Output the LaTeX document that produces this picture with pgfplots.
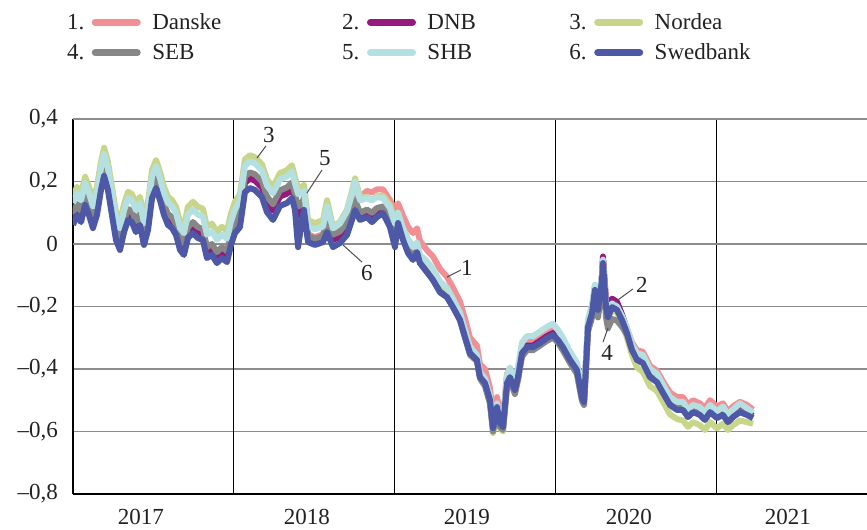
\documentclass[border=0pt]{standalone}
\usepackage{fontspec}
\setmainfont{Liberation Serif}
\usepackage{pgfplots}
\usepackage{pgfplotstable}
\pgfplotsset{compat=1.18}

\definecolor{danske}{RGB}{241,143,148}
\definecolor{dnb}{RGB}{150,25,125}
\definecolor{nordea}{RGB}{200,214,140}
\definecolor{seb}{RGB}{135,135,135}
\definecolor{shb}{RGB}{180,224,226}
\definecolor{swed}{RGB}{77,88,166}
\definecolor{txt}{RGB}{34,34,34}
\definecolor{gridg}{RGB}{140,140,140}

\newcommand\fs{\fontsize{23bp}{27bp}\selectfont}
\newcommand\legimg[1]{%
  \draw[line width=7bp,line cap=round] (0bp,0bp) -- (42bp,0bp);
  \node[anchor=east,inner sep=0pt,text=txt,font=\fs] at (-11bp,0bp) {#1.};}

% x: decimal year, columns: Danske DNB Nordea SEB SHB Swedbank (per cent)
\pgfplotstableread{
x        D      DNB    NO     SEB    SHB    SW
2017.000 0.091 0.076 0.151 0.096 0.131 0.061
2017.025 0.123 0.108 0.183 0.128 0.163 0.093
2017.050 0.100 0.085 0.160 0.105 0.140 0.070
2017.075 0.155 0.140 0.215 0.160 0.195 0.125
2017.099 0.123 0.108 0.183 0.128 0.163 0.093
2017.124 0.081 0.066 0.141 0.086 0.121 0.051
2017.149 0.123 0.108 0.183 0.128 0.163 0.093
2017.174 0.203 0.188 0.263 0.208 0.243 0.173
2017.193 0.248 0.233 0.308 0.253 0.288 0.218
2017.217 0.203 0.188 0.263 0.208 0.243 0.173
2017.242 0.123 0.108 0.183 0.128 0.163 0.093
2017.267 0.043 0.028 0.103 0.048 0.083 0.013
2017.292 0.011 -0.004 0.071 0.016 0.051 -0.019
2017.317 0.068 0.053 0.128 0.073 0.108 0.038
2017.342 0.107 0.092 0.167 0.112 0.147 0.077
2017.366 0.100 0.085 0.160 0.105 0.140 0.070
2017.391 0.068 0.053 0.128 0.073 0.108 0.038
2017.416 0.091 0.076 0.151 0.096 0.131 0.061
2017.441 0.027 0.012 0.087 0.032 0.067 -0.003
2017.466 0.075 0.060 0.135 0.080 0.115 0.045
2017.491 0.177 0.162 0.237 0.182 0.217 0.147
2017.516 0.209 0.194 0.269 0.214 0.249 0.179
2017.540 0.171 0.156 0.231 0.176 0.211 0.141
2017.565 0.123 0.108 0.183 0.128 0.163 0.093
2017.590 0.091 0.076 0.151 0.096 0.131 0.061
2017.615 0.081 0.066 0.141 0.086 0.121 0.051
2017.640 0.059 0.044 0.119 0.064 0.099 0.029
2017.665 0.011 -0.004 0.071 0.016 0.051 -0.019
2017.689 -0.005 -0.020 0.055 0.000 0.035 -0.035
2017.714 0.049 0.034 0.119 0.054 0.094 0.019
2017.745 0.065 0.050 0.135 0.070 0.110 0.035
2017.776 0.049 0.034 0.119 0.054 0.094 0.019
2017.807 0.043 0.028 0.113 0.048 0.088 0.013
2017.832 -0.015 -0.030 0.055 -0.010 0.030 -0.045
2017.863 -0.005 -0.020 0.065 0.000 0.040 -0.035
2017.894 -0.031 -0.046 0.039 -0.026 0.014 -0.061
2017.925 -0.015 -0.030 0.055 -0.010 0.030 -0.045
2017.957 -0.028 -0.043 0.042 -0.023 0.017 -0.058
2017.981 0.027 0.012 0.097 0.032 0.072 -0.003
2018.006 0.065 0.050 0.135 0.070 0.110 0.035
2018.037 0.094 0.084 0.159 0.104 0.139 0.054
2018.068 0.206 0.196 0.271 0.216 0.251 0.166
2018.099 0.219 0.209 0.284 0.229 0.264 0.179
2018.130 0.213 0.203 0.278 0.223 0.258 0.173
2018.174 0.190 0.180 0.255 0.200 0.235 0.150
2018.205 0.142 0.132 0.207 0.152 0.187 0.102
2018.242 0.117 0.107 0.182 0.127 0.162 0.077
2018.286 0.162 0.152 0.227 0.172 0.207 0.122
2018.329 0.171 0.161 0.236 0.181 0.216 0.131
2018.360 0.187 0.177 0.252 0.197 0.232 0.147
2018.379 0.149 0.139 0.214 0.159 0.194 0.109
2018.398 0.110 0.090 0.180 0.120 0.160 -0.010
2018.422 0.117 0.107 0.182 0.127 0.162 0.077
2018.435 0.140 0.130 0.190 0.150 0.170 0.109
2018.460 0.031 0.016 0.076 0.026 0.056 0.006
2018.503 0.022 0.007 0.067 0.017 0.047 -0.003
2018.553 0.031 0.016 0.076 0.026 0.056 0.006
2018.578 0.080 0.055 0.140 0.075 0.120 0.038
2018.615 0.040 0.015 0.055 0.030 0.050 -0.010
2018.658 0.055 0.020 0.070 0.040 0.065 0.003
2018.702 0.090 0.045 0.110 0.070 0.105 0.029
2018.733 0.140 0.090 0.170 0.110 0.160 0.077
2018.752 0.170 0.120 0.210 0.140 0.200 0.109
2018.783 0.150 0.090 0.150 0.100 0.140 0.077
2018.826 0.170 0.100 0.150 0.110 0.147 0.086
2018.857 0.165 0.085 0.140 0.100 0.140 0.070
2018.888 0.175 0.100 0.155 0.115 0.150 0.086
2018.925 0.175 0.110 0.155 0.120 0.147 0.099
2018.969 0.140 0.065 0.125 0.080 0.115 0.054
2019.000 0.110 0.010 0.070 0.030 0.065 -0.010
2019.019 0.130 0.075 0.100 0.080 0.100 0.067
2019.050 0.090 0.020 0.050 0.025 0.050 0.013
2019.081 0.055 -0.020 0.015 -0.015 0.015 -0.029
2019.112 0.035 -0.045 -0.010 -0.040 -0.010 -0.051
2019.137 0.050 -0.020 0.000 -0.020 0.005 -0.026
2019.155 0.010 -0.055 -0.035 -0.060 -0.035 -0.061
2019.199 -0.020 -0.085 -0.060 -0.090 -0.055 -0.090
2019.236 -0.040 -0.110 -0.085 -0.115 -0.080 -0.115
2019.280 -0.080 -0.150 -0.130 -0.155 -0.120 -0.154
2019.323 -0.105 -0.165 -0.145 -0.170 -0.140 -0.170
2019.360 -0.140 -0.195 -0.180 -0.200 -0.175 -0.202
2019.404 -0.185 -0.240 -0.225 -0.245 -0.220 -0.243
2019.435 -0.240 -0.295 -0.280 -0.300 -0.275 -0.298
2019.466 -0.300 -0.345 -0.335 -0.355 -0.330 -0.349
2019.509 -0.325 -0.370 -0.360 -0.375 -0.355 -0.371
2019.528 -0.385 -0.425 -0.420 -0.430 -0.410 -0.426
2019.559 -0.400 -0.445 -0.440 -0.455 -0.430 -0.445
2019.590 -0.460 -0.500 -0.505 -0.510 -0.485 -0.499
2019.609 -0.550 -0.590 -0.605 -0.600 -0.575 -0.589
2019.634 -0.490 -0.520 -0.535 -0.530 -0.510 -0.522
2019.652 -0.540 -0.575 -0.590 -0.585 -0.560 -0.573
2019.671 -0.555 -0.585 -0.600 -0.595 -0.570 -0.586
2019.696 -0.415 -0.445 -0.455 -0.455 -0.420 -0.445
2019.714 -0.400 -0.425 -0.435 -0.435 -0.395 -0.426
2019.745 -0.440 -0.465 -0.475 -0.480 -0.440 -0.467
2019.764 -0.400 -0.425 -0.435 -0.435 -0.395 -0.426
2019.789 -0.325 -0.345 -0.355 -0.360 -0.315 -0.349
2019.820 -0.305 -0.325 -0.335 -0.340 -0.295 -0.330
2019.857 -0.310 -0.325 -0.335 -0.340 -0.295 -0.330
2019.901 -0.295 -0.310 -0.320 -0.325 -0.280 -0.317
2019.944 -0.280 -0.295 -0.305 -0.310 -0.265 -0.301
2019.981 -0.270 -0.285 -0.295 -0.300 -0.255 -0.291
2020.012 -0.285 -0.300 -0.315 -0.315 -0.275 -0.307
2020.043 -0.310 -0.325 -0.340 -0.340 -0.300 -0.330
2020.087 -0.345 -0.365 -0.380 -0.380 -0.345 -0.371
2020.130 -0.385 -0.400 -0.415 -0.415 -0.380 -0.403
2020.161 -0.475 -0.485 -0.500 -0.500 -0.470 -0.490
2020.174 -0.490 -0.500 -0.515 -0.515 -0.485 -0.506
2020.186 -0.380 -0.390 -0.405 -0.405 -0.370 -0.394
2020.199 -0.250 -0.260 -0.275 -0.280 -0.240 -0.266
2020.224 -0.205 -0.215 -0.230 -0.235 -0.195 -0.221
2020.242 -0.135 -0.140 -0.155 -0.160 -0.130 -0.147
2020.261 -0.200 -0.200 -0.225 -0.235 -0.190 -0.211
2020.286 -0.105 -0.100 -0.125 -0.140 -0.100 -0.115
2020.292 -0.055 -0.040 -0.070 -0.085 -0.050 -0.061
2020.311 -0.190 -0.180 -0.215 -0.235 -0.190 -0.202
2020.323 -0.220 -0.200 -0.240 -0.270 -0.220 -0.234
2020.348 -0.190 -0.175 -0.210 -0.240 -0.190 -0.202
2020.379 -0.200 -0.185 -0.220 -0.245 -0.200 -0.211
2020.410 -0.230 -0.225 -0.255 -0.265 -0.230 -0.243
2020.441 -0.270 -0.275 -0.300 -0.290 -0.270 -0.285
2020.472 -0.315 -0.330 -0.355 -0.340 -0.320 -0.339
2020.503 -0.340 -0.360 -0.395 -0.365 -0.350 -0.371
2020.540 -0.345 -0.370 -0.410 -0.375 -0.355 -0.381
2020.584 -0.390 -0.415 -0.455 -0.420 -0.400 -0.426
2020.627 -0.405 -0.430 -0.470 -0.435 -0.415 -0.442
2020.665 -0.440 -0.465 -0.505 -0.470 -0.450 -0.477
2020.708 -0.475 -0.505 -0.545 -0.510 -0.490 -0.515
2020.752 -0.490 -0.520 -0.560 -0.525 -0.505 -0.531
2020.789 -0.490 -0.520 -0.565 -0.525 -0.505 -0.531
2020.820 -0.515 -0.545 -0.585 -0.550 -0.530 -0.554
2020.851 -0.500 -0.530 -0.570 -0.535 -0.515 -0.538
2020.894 -0.510 -0.540 -0.580 -0.540 -0.522 -0.547
2020.925 -0.525 -0.555 -0.595 -0.555 -0.540 -0.563
2020.957 -0.500 -0.530 -0.570 -0.535 -0.515 -0.538
2021.000 -0.520 -0.545 -0.590 -0.550 -0.535 -0.557
2021.037 -0.510 -0.535 -0.575 -0.540 -0.520 -0.547
2021.068 -0.535 -0.560 -0.595 -0.565 -0.545 -0.570
2021.099 -0.520 -0.545 -0.580 -0.550 -0.530 -0.554
2021.143 -0.505 -0.530 -0.565 -0.535 -0.510 -0.538
2021.186 -0.515 -0.540 -0.570 -0.545 -0.525 -0.547
2021.224 -0.530 -0.550 -0.575 -0.555 -0.540 -0.557
}\rates

\begin{document}
\begin{tikzpicture}
\begin{axis}[
    name=ax,
    scale only axis,
    width=794bp, height=375bp,
    xmin=2017, xmax=2021.932,
    ymin=-0.8, ymax=0.4,
    axis lines*=left,
    axis line style={black, line width=1.6bp},
    tick style={draw=none},
    xtick={2017.422,2018.453,2019.447,2020.453,2021.441},
    xticklabels={2017,2018,2019,2020,2021},
    ytick={-0.8,-0.6,-0.4,-0.2,0,0.2,0.4},
    yticklabels={{–0,8},{–0,6},{–0,4},{–0,2},{0},{0,2},{0,4}},
    xticklabel style={font=\fs, text=txt, inner sep=0pt, yshift=-15bp},
    yticklabel style={font=\fs, text=txt, inner sep=0pt, xshift=-15bp},
    ymajorgrids,
    y grid style={gridg, line width=1.6bp},
    extra x ticks={2018,2019,2020,2021},
    extra x tick labels={},
    extra x tick style={grid=major, major grid style={black, line width=1bp}},
    extra y ticks={0,0.4},
    extra y tick labels={},
    extra y tick style={grid=major, major grid style={black!80, line width=1.6bp}},
    every axis plot/.append style={line width=6bp, line join=round, no marks},
    legend columns=3,
    legend cell align=left,
    legend style={at={(-0.00756,1.2813)}, anchor=north west, draw=none, fill=none,
      inner sep=0pt, outer sep=0pt, row sep=13bp, font=\fs, text=txt,
      nodes={inner sep=0pt},
      /tikz/every odd column/.append style={column sep=11.5bp}},
]
\addplot[danske, legend image code/.code={\legimg{1}}] table[x=x,y=D]{\rates};
\addlegendentry{\makebox[190bp][l]{Danske}}
\addplot[dnb, legend image code/.code={\legimg{2}}] table[x=x,y=DNB]{\rates};
\addlegendentry{\makebox[142bp][l]{DNB}}
\addplot[nordea, legend image code/.code={\legimg{3}}] table[x=x,y=NO]{\rates};
\addlegendentry{Nordea}
\addplot[seb, legend image code/.code={\legimg{4}}] table[x=x,y=SEB]{\rates};
\addlegendentry{SEB}
\addplot[shb, legend image code/.code={\legimg{5}}] table[x=x,y=SHB]{\rates};
\addlegendentry{SHB}
\addplot[swed, legend image code/.code={\legimg{6}}] table[x=x,y=SW]{\rates};
\addlegendentry{Swedbank}

\node[font=\fs, text=txt] at (axis description cs:0.01,1.0507) {\%};

\draw[txt!80, line width=1bp] (axis cs:2018.199,0.314) -- (axis cs:2018.143,0.275);
\node[font=\fs, text=txt] at (axis cs:2018.217,0.349) {3};
\draw[txt!80, line width=1bp] (axis cs:2018.547,0.237) -- (axis cs:2018.453,0.163);
\node[font=\fs, text=txt] at (axis cs:2018.565,0.275) {5};
\draw[txt!80, line width=1bp] (axis cs:2018.795,-0.058) -- (axis cs:2018.677,-0.003);
\node[font=\fs, text=txt] at (axis cs:2018.826,-0.093) {6};
\draw[txt!80, line width=1bp] (axis cs:2019.410,-0.083) -- (axis cs:2019.323,-0.106);
\node[font=\fs, text=txt] at (axis cs:2019.447,-0.077) {1};
\draw[txt!80, line width=1bp] (axis cs:2020.478,-0.144) -- (axis cs:2020.366,-0.186);
\node[font=\fs, text=txt] at (axis cs:2020.534,-0.131) {2};
\draw[txt!80, line width=1bp] (axis cs:2020.292,-0.314) -- (axis cs:2020.323,-0.269);
\node[font=\fs, text=txt] at (axis cs:2020.317,-0.349) {4};
\end{axis}
\pgfresetboundingbox
\path[use as bounding box] ([xshift=-73bp,yshift=-36bp]ax.south west) rectangle ([yshift=119bp]ax.north east);
\end{tikzpicture}
\end{document}
